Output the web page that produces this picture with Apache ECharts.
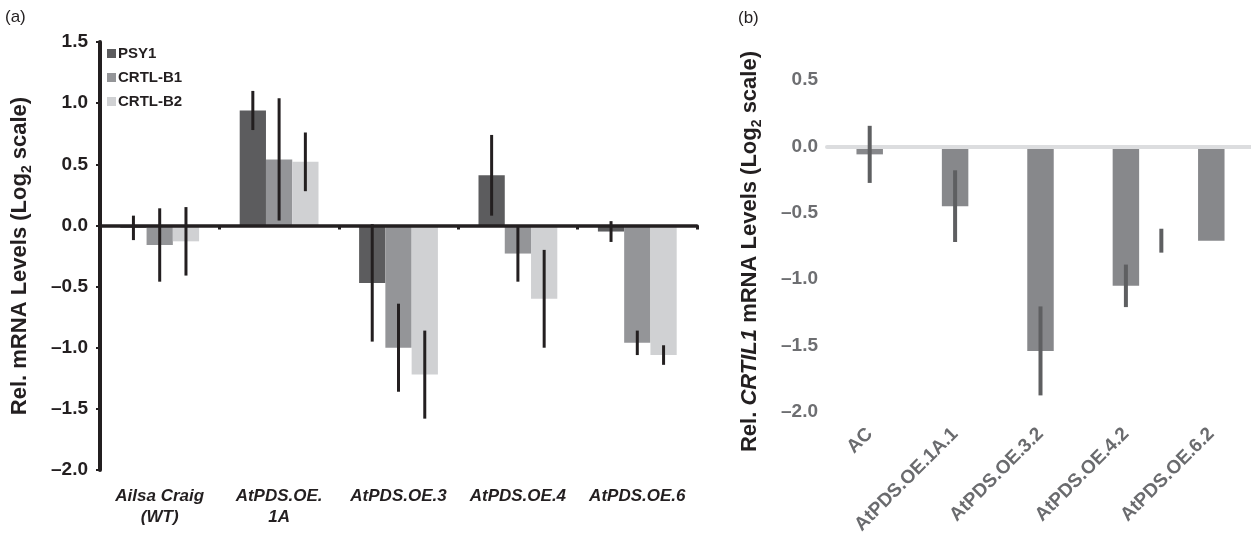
<!DOCTYPE html>
<html>
<head>
<meta charset="utf-8">
<script src="https://cdn.jsdelivr.net/npm/echarts@6/dist/echarts.min.js"></script>
<style>
  html, body { margin: 0; padding: 0; background: #fff; }
  #chart { width: 1251px; height: 534px; }
</style>
</head>
<body>
<div id="chart"></div>
<script>
// (a) relative mRNA levels, three genes per line
var linesA = ['Ailsa Craig\n(WT)', 'AtPDS.OE.\n1A', 'AtPDS.OE.3', 'AtPDS.OE.4', 'AtPDS.OE.6'];
var genes = ['PSY1', 'CRTL-B1', 'CRTL-B2'];
var psy1 = [-0.02, 0.94, -0.47, 0.41, -0.05];
var psy1Err = [0.10, 0.16, 0.48, 0.33, 0.085];
var crtlB1 = [-0.16, 0.54, -1.00, -0.23, -0.96];
var crtlB1Err = [0.30, 0.50, 0.36, 0.23, 0.10];
var crtlB2 = [-0.13, 0.52, -1.22, -0.60, -1.06];
var crtlB2Err = [0.28, 0.24, 0.36, 0.40, 0.08];
var yTicksA = { min: -2.0, max: 1.5, step: 0.5 };

// (b) CRTIL1 levels
var linesB = ['AC', 'AtPDS.OE.1A.1', 'AtPDS.OE.3.2', 'AtPDS.OE.4.2', 'AtPDS.OE.6.2'];
var crtil1 = [-0.06, -0.45, -1.54, -1.05, -0.71];
var crtil1Err = [0.215, 0.27, 0.335, 0.16, 0.09];
var yTicksB = { min: -2.0, max: 0.5, step: 0.5 };

var font = 'Liberation Sans, Arial, Helvetica, sans-serif';
var ink = '#231f20';
var greyText = '#6d6e71';
var geneColors = ['#5c5c5e', '#949598', '#d0d1d3'];
var catGap = 0.34;   // share of the band left empty in (a)
var strayShift = -0.585; // (b): last error bar sits left of its bar in the source figure

function dash(v) {
  return v.toFixed(1).replace('-', '\u2013');
}

var errA = [];
[psy1, crtlB1, crtlB2].forEach(function (arr, s) {
  var errs = [psy1Err, crtlB1Err, crtlB2Err][s];
  arr.forEach(function (v, i) { errA.push([i, v, errs[i], s]); });
});
var errB = crtil1.map(function (v, i) { return [i, v, crtil1Err[i]]; });

var chart = echarts.init(document.getElementById('chart'));
chart.setOption({
  animation: false,
  textStyle: { fontFamily: font },
  graphic: [
    { type: 'text', left: 5, top: 9, style: { text: '(a)', font: '17px ' + font, fill: ink } },
    { type: 'text', left: 738, top: 10, style: { text: '(b)', font: '17px ' + font, fill: ink } }
  ],
  legend: {
    data: genes,
    orient: 'vertical',
    left: 102, top: 41,
    icon: 'rect', itemWidth: 9, itemHeight: 9, itemGap: 9,
    selectedMode: false,
    textStyle: { fontFamily: font, fontSize: 15, fontWeight: 'bold', color: ink, lineHeight: 15, padding: [0, 0, 0, -3] }
  },
  grid: [
    { left: 100, top: 42, width: 597, height: 428, outerBoundsMode: 'none' },
    { left: 827, top: 80, width: 427, height: 332, outerBoundsMode: 'none' }
  ],
  xAxis: [
    {
      gridIndex: 0, type: 'category', data: linesA, position: 'bottom', z: 5,
      axisLine: { onZero: true, lineStyle: { color: ink, width: 3.5 } },
      axisTick: { show: true, length: 4, lineStyle: { color: ink, width: 3 } },
      axisLabel: { show: false }
    },
    {
      gridIndex: 0, type: 'category', data: linesA, position: 'bottom',
      axisLine: { show: false, onZero: false }, axisTick: { show: false },
      axisLabel: {
        interval: 0, margin: 16, color: ink, fontFamily: font, fontSize: 17,
        fontWeight: 'bold', fontStyle: 'italic', lineHeight: 21
      }
    },
    {
      gridIndex: 1, type: 'category', data: linesB, position: 'bottom', z: 5,
      axisLine: { onZero: true, lineStyle: { color: '#dcdddf', width: 4 } },
      axisTick: { show: false }, axisLabel: { show: false }
    },
    {
      gridIndex: 1, type: 'category', data: linesB, position: 'bottom',
      axisLine: { show: false, onZero: false }, axisTick: { show: false },
      axisLabel: { interval: 0, rotate: 45, margin: 19, color: '#6a6b6e', fontFamily: font, fontSize: 19, fontWeight: 'bold' }
    }
  ],
  yAxis: [
    {
      gridIndex: 0, type: 'value', min: yTicksA.min, max: yTicksA.max, interval: yTicksA.step,
      axisLine: { show: true, lineStyle: { color: ink, width: 4 } },
      axisTick: { show: true, length: 4, lineStyle: { color: ink, width: 2 } },
      splitLine: { show: false },
      axisLabel: { margin: 12, color: ink, fontFamily: font, fontSize: 19, fontWeight: 'bold', formatter: dash },
      name: 'Rel. mRNA Levels (Log{sub|2} scale)',
      nameLocation: 'middle', nameGap: 66,
      nameTextStyle: {
        fontFamily: font, fontSize: 22, fontWeight: 'bold', color: ink, lineHeight: 28,
        rich: { sub: { fontFamily: font, fontSize: 14, fontWeight: 'bold', color: ink, lineHeight: 14, verticalAlign: 'bottom' } }
      }
    },
    {
      gridIndex: 1, type: 'value', min: yTicksB.min, max: yTicksB.max, interval: yTicksB.step,
      axisLine: { show: false }, axisTick: { show: false }, splitLine: { show: false },
      axisLabel: { margin: 9, color: greyText, fontFamily: font, fontSize: 19, fontWeight: 'bold', formatter: dash },
      name: 'Rel. {it|CRTIL1} mRNA Levels (Log{sub|2} scale)',
      nameLocation: 'middle', nameGap: 63,
      nameTextStyle: {
        fontFamily: font, fontSize: 22, fontWeight: 'bold', color: ink, lineHeight: 28, padding: [0, 11, 0, 0],
        rich: {
          it: { fontFamily: font, fontSize: 22, fontWeight: 'bold', fontStyle: 'italic', color: ink },
          sub: { fontFamily: font, fontSize: 14, fontWeight: 'bold', color: ink, lineHeight: 14, verticalAlign: 'bottom' }
        }
      }
    }
  ],
  series: [
    { name: genes[0], type: 'bar', xAxisIndex: 0, yAxisIndex: 0, data: psy1, itemStyle: { color: geneColors[0] }, barGap: '0%', barCategoryGap: (catGap * 100) + '%' },
    { name: genes[1], type: 'bar', xAxisIndex: 0, yAxisIndex: 0, data: crtlB1, itemStyle: { color: geneColors[1] }, barGap: '0%', barCategoryGap: (catGap * 100) + '%' },
    { name: genes[2], type: 'bar', xAxisIndex: 0, yAxisIndex: 0, data: crtlB2, itemStyle: { color: geneColors[2] }, barGap: '0%', barCategoryGap: (catGap * 100) + '%' },
    {
      type: 'custom', xAxisIndex: 0, yAxisIndex: 0, z: 6, data: errA, encode: { x: 0, y: 1 },
      renderItem: function (params, api) {
        var i = api.value(0), v = api.value(1), e = api.value(2), s = api.value(3);
        var band = api.size([1, 0])[0];
        var bw = band * (1 - catGap) / 3;
        var x = api.coord([i, v])[0] + (s - 1) * bw;
        var top = api.coord([i, v + e])[1];
        var bot = api.coord([i, v - e])[1];
        return { type: 'line', shape: { x1: x, y1: top, x2: x, y2: bot }, style: { stroke: ink, lineWidth: 3 } };
      }
    },
    { type: 'bar', xAxisIndex: 2, yAxisIndex: 1, data: crtil1, itemStyle: { color: '#87888b' }, barCategoryGap: '69%' },
    {
      type: 'custom', xAxisIndex: 2, yAxisIndex: 1, z: 6, data: errB, encode: { x: 0, y: 1 },
      renderItem: function (params, api) {
        var i = api.value(0), v = api.value(1), e = api.value(2);
        var band = api.size([1, 0])[0];
        var x = api.coord([i, v])[0] + (i === linesB.length - 1 ? strayShift * band : 0);
        var top = api.coord([i, v + e])[1];
        var bot = api.coord([i, v - e])[1];
        return { type: 'line', shape: { x1: x, y1: top, x2: x, y2: bot }, style: { stroke: '#5e5f61', lineWidth: 4 } };
      }
    }
  ]
});
</script>
</body>
</html>
